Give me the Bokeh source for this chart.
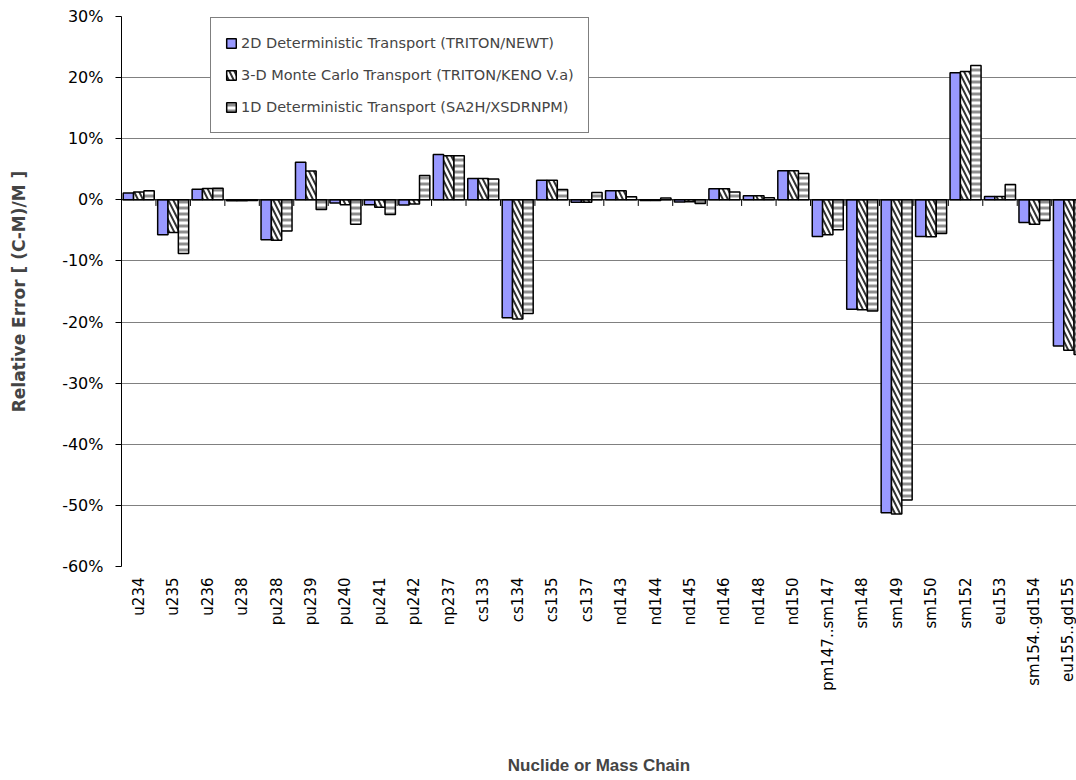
import math
from bokeh.plotting import figure
from bokeh.models import (ColumnDataSource, Range1d, FixedTicker, PrintfTickFormatter,
                          Span, Legend, LegendItem)
from bokeh.transform import dodge
from bokeh.embed import file_html
from bokeh.resources import INLINE

categories = ["u234", "u235", "u236", "u238", "pu238", "pu239", "pu240", "pu241", "pu242",
              "np237", "cs133", "cs134", "cs135", "cs137", "nd143", "nd144", "nd145", "nd146",
              "nd148", "nd150", "pm147..sm147", "sm148", "sm149", "sm150", "sm152", "eu153",
              "sm154..gd154", "eu155..gd155"]

newt = [1.1, -5.7, 1.75, -0.15, -6.55, 6.15, -0.5, -0.8, -0.85, 7.4, 3.5, -19.3, 3.2, -0.4,
        1.5, -0.1, -0.35, 1.8, 0.65, 4.75, -6.0, -17.9, -51.2, -6.0, 20.8, 0.55, -3.7, -23.9]
keno = [1.3, -5.35, 1.85, -0.15, -6.6, 4.7, -0.8, -1.2, -0.7, 7.2, 3.5, -19.5, 3.2, -0.4,
        1.5, -0.1, -0.3, 1.8, 0.65, 4.75, -5.7, -18.0, -51.4, -6.05, 21.0, 0.55, -4.0, -24.6]
xsdrn = [1.5, -8.8, 1.9, -0.1, -5.1, -1.6, -4.0, -2.4, 4.0, 7.2, 3.4, -18.6, 1.7, 1.2,
         0.5, 0.3, -0.6, 1.3, 0.35, 4.3, -4.9, -18.2, -49.1, -5.5, 22.0, 2.5, -3.4, -25.3]

series_names = ["2D Deterministic Transport (TRITON/NEWT)",
                "3-D Monte Carlo Transport (TRITON/KENO V.a)",
                "1D Deterministic Transport (SA2H/XSDRNPM)"]

y_ticks = [-60, -50, -40, -30, -20, -10, 0, 10, 20, 30]

idx = list(range(len(categories)))
src = ColumnDataSource(dict(idx=idx, cat=categories, newt=newt, keno=keno, xsdrn=xsdrn))

p = figure(width=1076, height=780, output_backend="svg", toolbar_location=None,
           x_range=Range1d(-0.5, 27.22), y_range=Range1d(-60, 30),
           min_border_left=121, min_border_right=0, min_border_top=16, min_border_bottom=214)
p.outline_line_color = None
p.background_fill_color = "white"
p.border_fill_color = "white"

bw = 0.3
r1 = p.vbar(x=dodge("idx", -0.3, range=p.x_range), top="newt", bottom=0, width=bw, source=src,
            fill_color="#9999FF", line_color="black", line_width=1.5)
r2 = p.vbar(x=dodge("idx", 0.0, range=p.x_range), top="keno", bottom=0, width=bw, source=src,
            fill_color="white", line_color="black", line_width=1.5,
            hatch_pattern="\\", hatch_color="#333333", hatch_weight=2.0, hatch_scale=10)
r3 = p.vbar(x=dodge("idx", 0.3, range=p.x_range), top="xsdrn", bottom=0, width=bw, source=src,
            fill_color="white", line_color="black", line_width=1.5,
            hatch_pattern="-", hatch_color="#8e8e8e", hatch_weight=3, hatch_scale=6)

# zero line and category boundary ticks
p.add_layout(Span(location=0, dimension="width", line_color="black", line_width=1))
bounds = [i - 0.5 for i in range(len(categories) + 1)]
p.segment(x0=bounds, y0=[0] * len(bounds), x1=bounds, y1=[-1.0] * len(bounds),
          line_color="black", line_width=1)

# axes
p.xaxis.ticker = FixedTicker(ticks=idx)
p.xaxis.major_label_overrides = {i: c for i, c in enumerate(categories)}
p.xaxis.major_label_orientation = math.pi / 2
p.xaxis.major_tick_line_color = None
p.xaxis.minor_tick_line_color = None
p.xaxis.axis_line_color = None
p.xaxis.major_label_standoff = 5
p.xaxis.major_label_text_font = "DejaVu Sans"
p.xaxis.major_label_text_font_size = "15px"
p.xaxis.major_label_text_color = "black"
p.xaxis.axis_label = "Nuclide or Mass Chain"
p.xaxis.axis_label_text_font = "Liberation Sans"
p.xaxis.axis_label_text_font_style = "bold"
p.xaxis.axis_label_text_font_size = "17px"
p.xaxis.axis_label_standoff = 62

p.yaxis.ticker = FixedTicker(ticks=y_ticks)
p.yaxis.formatter = PrintfTickFormatter(format="%d%%")
p.yaxis.major_tick_out = 6
p.yaxis.major_tick_in = 0
p.yaxis.minor_tick_line_color = None
p.yaxis.axis_line_color = "black"
p.yaxis.major_tick_line_color = "black"
p.yaxis.major_label_standoff = 12
p.yaxis.major_label_text_font = "DejaVu Sans"
p.yaxis.major_label_text_font_size = "16px"
p.yaxis.major_label_text_color = "black"
p.yaxis.axis_label = "Relative Error [ (C-M)/M ]"
p.yaxis.axis_label_text_font = "DejaVu Sans"
p.yaxis.axis_label_text_font_style = "bold"
p.yaxis.axis_label_text_font_size = "17px"
p.yaxis.axis_label_standoff = 30

p.xgrid.grid_line_color = None
p.ygrid.ticker = FixedTicker(ticks=y_ticks)
p.ygrid.grid_line_color = "#808080"
p.ygrid.grid_line_width = 1

legend = Legend(items=[LegendItem(label=series_names[0], renderers=[r1]),
                       LegendItem(label=series_names[1], renderers=[r2]),
                       LegendItem(label=series_names[2], renderers=[r3])],
                location=(89, 433))
legend.label_text_font = "DejaVu Sans"
legend.label_text_font_size = "14.5px"
legend.label_height = 22
legend.glyph_height = 12
legend.glyph_width = 12
legend.spacing = 10
legend.padding = 14
legend.margin = 0
legend.label_standoff = 4
legend.border_line_color = "black"
legend.border_line_width = 1
legend.background_fill_color = "white"
legend.background_fill_alpha = 1
p.add_layout(legend, "center")

open("out.html", "w").write(file_html(p, INLINE))
